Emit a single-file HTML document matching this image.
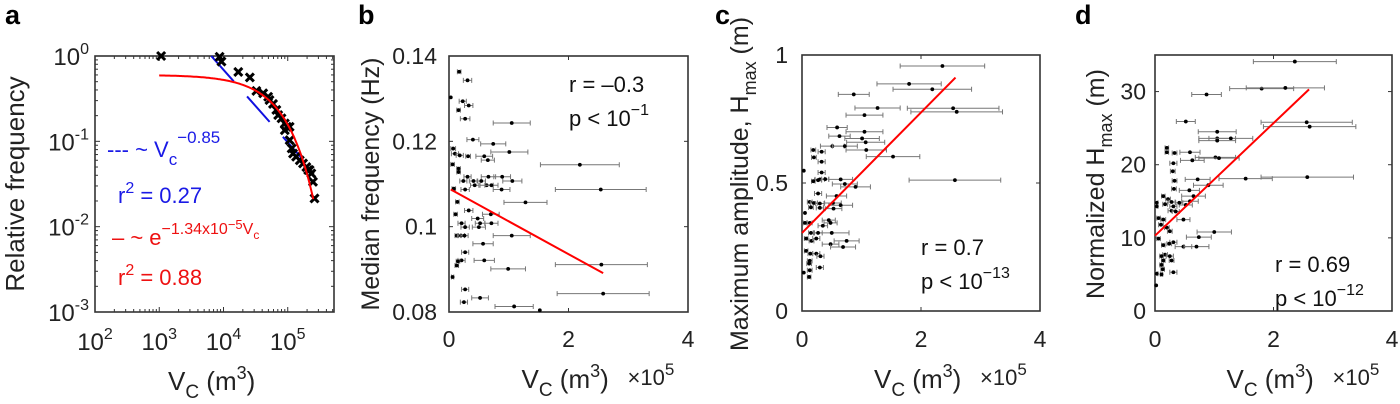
<!DOCTYPE html>
<html><head><meta charset="utf-8"><style>
html,body{margin:0;padding:0;background:#fff}
svg{display:block;font-family:"Liberation Sans",Arial,sans-serif}
</style></head><body>
<svg id="fig" width="1400" height="404" viewBox="0 0 1400 404">
<g id="pa"></g>
<g id="pb"></g>
<g id="pc"></g>
<g id="pd"></g>
</svg>
<script>
// ---- Panel a data ----
const aVc = [1070,8700,9300,17000,25700,32500,41500,49500,52000,59000,66500,71000,80000,90000,97000,107000,90000,107000,115000,121000,135000,154000,173000,195000,219000,233000,208000,247000,261000];
const aFreq = [1.0,0.98,0.86,0.65,0.56,0.39,0.365,0.333,0.305,0.274,0.233,0.203,0.186,0.162,0.148,0.148,0.135,0.103,0.0826,0.072,0.066,0.060,0.055,0.050,0.046,0.042,0.046,0.0336,0.0214];
const aExpA = 0.6, aExpK = 1.34e-5, aPowExp = -0.85, aPowRange = [6450, 162000];
const aXTicks = [2,3,4,5], aYTicks = [0,-1,-2,-3];

// ---- Panel b data ----
const bX = [0.17,0.31,0.23,0.33,0.16,0.27,1.05,0.03,0.40,0.74,1.01,0.07,0.10,0.18,0.32,0.59,0.65,2.19,0.06,0.16,0.16,0.31,0.66,0.89,1.06,0.24,0.41,0.54,0.63,0.71,0.88,0.43,0.27,2.54,0.08,0.14,1.28,0.33,0.11,0.70,0.48,0.21,0.52,0.71,0.27,0.50,0.13,0.20,0.26,1.05,0.57,0.27,0.21,0.15,0.59,2.55,0.13,0.99,0.06,0.27,2.58,0.52,0.25,1.09,1.52];
const bY = [0.1363,0.1343,0.1294,0.1284,0.1273,0.1253,0.1243,0.1303,0.1204,0.1194,0.1175,0.1183,0.1171,0.1167,0.1165,0.1165,0.1156,0.1145,0.1146,0.1136,0.1128,0.1117,0.1117,0.1117,0.1107,0.1107,0.1107,0.1107,0.1097,0.1097,0.1087,0.1097,0.1087,0.1087,0.1089,0.1058,0.1057,0.1038,0.1029,0.1029,0.1019,0.1008,0.1008,0.1008,0.0999,0.0999,0.0979,0.0979,0.0979,0.0979,0.0960,0.0940,0.0921,0.0919,0.0921,0.0911,0.0909,0.0901,0.0882,0.0853,0.0843,0.0833,0.0823,0.0813,0.0804];
const bErr = [0.03,0.07,0.06,0.07,0.03,0.08,0.31,0,0.10,0.21,0.31,0.04,0.06,0.06,0.04,0.14,0.11,0.66,0.03,0.03,0.03,0.06,0.12,0.14,0.16,0.06,0.07,0.07,0.11,0.11,0.14,0.07,0.07,0.76,0.03,0.03,0.36,0.07,0.03,0.14,0.10,0.06,0.08,0.11,0.07,0.11,0.03,0.06,0.06,0.31,0.17,0.06,0.06,0.03,0.17,0.77,0.03,0.29,0.02,0.06,0.77,0.14,0.06,0.32,0];
const bFit = [[0.03,0.1087],[2.58,0.0891]];
const bXTicks = [0,2,4], bYTicks = [0.08,0.1,0.12,0.14], bYLabels = ["0.08","0.1","0.12","0.14"];

// ---- Panel c data ----
const cX = [2.36,1.80,2.19,0.87,1.27,2.54,2.60,1.05,0.59,1.05,0.63,1.01,1.07,0.51,0.72,0.19,0.33,1.08,0.20,1.53,0.33,0.03,0.33,0.30,0.39,0.65,0.72,0.90,2.57,0.27,0.19,0.27,0.58,0.13,0.20,0.30,0.52,0.65,0.15,0.30,0.53,0.05,0.05,0.13,0.45,0.48,0.35,0.50,0.15,0.27,0.75,0.48,0.69,0.07,0.16,0.24,0.07,0.14,0.24,0.31,0.13,0.12,0.30,0.03,0.13,0.12];
const cY = [0.957,0.887,0.866,0.846,0.793,0.792,0.778,0.765,0.717,0.700,0.683,0.674,0.659,0.644,0.644,0.629,0.622,0.629,0.600,0.603,0.583,0.548,0.541,0.514,0.515,0.514,0.496,0.485,0.511,0.511,0.507,0.459,0.449,0.426,0.422,0.420,0.422,0.413,0.405,0.403,0.400,0.383,0.344,0.344,0.355,0.344,0.333,0.305,0.305,0.305,0.274,0.261,0.250,0.283,0.274,0.283,0.235,0.224,0.224,0.214,0.196,0.185,0.170,0.150,0.159,0.133];
const cErr = [0.71,0.54,0.66,0.26,0.38,0.77,0.77,0.31,0.17,0.31,0.18,0.29,0.32,0.20,0.21,0.04,0.06,0.34,0.04,0.45,0.06,0,0.06,0.08,0.06,0.20,0.21,0.25,0.77,0.06,0.03,0.06,0.17,0.04,0.06,0.07,0.14,0.20,0.04,0.06,0.14,0,0.03,0.04,0.11,0.11,0.08,0.29,0.04,0.07,0.21,0.14,0.21,0.03,0.04,0.06,0.03,0.04,0.06,0.06,0.04,0.04,0.06,0,0.04,0.03];
const cFit = [[0,0.305],[2.58,0.912]];
const cXTicks = [0,2,4], cYTicks = [0,0.5,1], cYLabels = ["0","0.5","1"];

// ---- Panel d data ----
const dX = [2.36,1.80,2.20,0.87,0.52,2.56,2.61,1.05,1.05,1.28,1.05,0.20,0.20,0.33,0.59,1.02,1.08,0.63,0.31,0.30,0.72,1.53,2.57,0.33,0.90,0.32,0.58,0.14,0.22,0.65,0.03,0.28,0.59,0.17,0.31,0.52,0.03,0.28,0.35,0.41,0.06,0.48,0.14,0.10,0.20,0.25,1.00,0.74,0.06,0.31,0.24,0.14,0.48,0.70,0.17,0.11,0.25,0.14,0.28,0.11,0.13,0.31,0.03,0.11,0.02];
const dY = [34.1,30.4,30.5,29.6,25.9,25.8,25.2,24.5,23.6,23.6,23.3,22.3,21.7,21.6,21.7,21.0,20.9,20.6,20.2,19.1,18.0,18.1,18.3,17.8,17.2,16.7,16.5,15.7,15.3,15.7,14.8,14.9,15.0,14.6,14.3,14.5,14.3,13.7,13.6,14.8,12.7,12.5,12.5,11.8,11.4,10.9,10.8,10.1,9.9,9.4,9.2,9.0,8.8,8.8,7.7,7.5,7.5,6.9,6.9,6.3,5.7,5.3,5.1,5.0,3.5];
const dErr = [0.70,0.54,0.66,0.25,0.16,0.77,0.78,0.32,0.31,0.37,0.31,0.03,0.03,0.04,0.17,0.34,0.34,0.20,0.06,0.04,0.21,0.45,0.78,0.04,0.25,0.04,0.17,0.03,0.04,0.20,0.02,0.06,0.14,0.04,0.06,0.11,0.02,0.06,0.06,0.06,0.03,0.11,0.04,0.04,0.04,0.04,0.29,0.21,0.03,0.06,0.04,0.03,0.14,0.21,0.04,0.03,0.06,0.03,0.04,0.03,0.03,0.06,0.02,0.02,0];
const dFit = [[0,10.3],[2.6,30.3]];
const dXTicks = [0,2,4], dYTicks = [0,10,20,30], dYLabels = ["0","10","20","30"];

const NS = "http://www.w3.org/2000/svg";
function mk(parent, tag, attrs, text){
  const e = document.createElementNS(NS, tag);
  for (const k in attrs) e.setAttribute(k, attrs[k]);
  if (text !== undefined) e.textContent = text;
  parent.appendChild(e);
  return e;
}
function tx(parent, x, y, html, opts){
  const t = mk(parent, "text", Object.assign({x:x, y:y, "font-size":20, fill:"#222"}, opts||{}));
  t.innerHTML = html;
  return t;
}
function box(g, L, T, R, B){
  const r = mk(g, "rect", {x:L, y:T, width:R-L, height:B-T, fill:"none", stroke:"#333", "stroke-width":1.6});
  
  
}
const VC_TITLE = `V<tspan dy="8" font-size="19">C</tspan><tspan dy="-8"> (m</tspan><tspan dy="-11" font-size="18">3</tspan><tspan dy="11">)</tspan>`;

// ---------- Panel a ----------
(function(){
  const g = document.getElementById("pa");
  const L=95,R=334,T=56,B=312;
  const lx0=2, lx1=5.72, ly0=-3, ly1=0;
  const sx = v => L + (Math.log10(v)-lx0)/(lx1-lx0)*(R-L);
  const sy = v => B - (Math.log10(v)-ly0)/(ly1-ly0)*(B-T);
  box(g,L,T,R,B);
  for (let d=2; d<6; d++) for (let m=1; m<10; m++){
    const lv = d+Math.log10(m); if (lv>lx1) continue;
    const x = L+(lv-lx0)/(lx1-lx0)*(R-L); const len = m===1?5:3;
    mk(g,"line",{x1:x,y1:B,x2:x,y2:B-len,stroke:"#333","stroke-width":1});
    mk(g,"line",{x1:x,y1:T,x2:x,y2:T+len,stroke:"#333","stroke-width":1});
  }
  for (let d=-3; d<0; d++) for (let m=1; m<10; m++){
    const lv = d+Math.log10(m);
    const y = B-(lv-ly0)/(ly1-ly0)*(B-T); const len = m===1?5:3;
    mk(g,"line",{x1:L,y1:y,x2:L+len,y2:y,stroke:"#333","stroke-width":1});
    mk(g,"line",{x1:R,y1:y,x2:R-len,y2:y,stroke:"#333","stroke-width":1});
  }
  aXTicks.forEach(p=>{
    const t = tx(g, L+(p-lx0)/(lx1-lx0)*(R-L), 350, `10<tspan dy="-11" font-size="16">${p}</tspan>`, {"text-anchor":"middle","font-size":24});
    
    
  });
  aYTicks.forEach(p=>{
    const t = tx(g, 89, B-(p-ly0)/(ly1-ly0)*(B-T)+9, `10<tspan dy="-11" font-size="16">${p}</tspan>`, {"text-anchor":"end","font-size":24});
    
    
  });
  const [p0,p1] = aPowRange;
  const bl = mk(g,"line",{x1:sx(p0),y1:sy(Math.pow(p0/p0,aPowExp)),x2:sx(p1),y2:sy(Math.pow(p1/p0,aPowExp)),stroke:"#1010e0","stroke-width":2,"stroke-dasharray":"34 20"});
  
  
  aVc.forEach((v,i)=>{
    const x=sx(v), y=sy(aFreq[i]);
    const p = mk(g,"path",{d:`M${x-4},${y-4}L${x+4},${y+4}M${x-4},${y+4}L${x+4},${y-4}`,stroke:"#000","stroke-width":3});
    
    
  });
  let d="";
  for (let i=0;i<=120;i++){
    const lv = Math.log10(1000)+i/120*(Math.log10(250000)-3);
    const v = Math.pow(10,lv);
    d += (i?"L":"M")+sx(v).toFixed(1)+","+sy(aExpA*Math.exp(-aExpK*v)).toFixed(1);
  }
  const rf = mk(g,"path",{d:d,fill:"none",stroke:"#f00","stroke-width":2});
  
  
  let t;
  t = tx(g,107,157,`--- ~ V<tspan dy="8" font-size="17">c</tspan><tspan dy="-22" font-size="17">−0.85</tspan>`,{fill:"#1a1ae6","font-size":22});
   
  t = tx(g,118,203,`r<tspan dy="-10" font-size="16">2</tspan><tspan dy="10"> = 0.27</tspan>`,{fill:"#1a1ae6","font-size":22});
   
  t = tx(g,112,245,`–  ~ e<tspan dy="-11" font-size="16">−1.34x10</tspan><tspan dy="-5" font-size="13">−5</tspan><tspan font-size="16" dy="5">V</tspan><tspan dy="5" font-size="12">c</tspan>`,{fill:"#ee1111","font-size":22});
   
  t = tx(g,118,285,`r<tspan dy="-10" font-size="16">2</tspan><tspan dy="10"> = 0.88</tspan>`,{fill:"#ee1111","font-size":22});
   
  t = tx(g,5,24,"a",{"font-weight":"bold","font-size":27,fill:"#000"});
   
  t = tx(g,0,0,"Relative frequency",{"font-size":26,"text-anchor":"middle",transform:"translate(24,184) rotate(-90)"});
   
  t = tx(g,168,390,VC_TITLE,{"font-size":26});
   
})();

function linPanel(gid, L, R, T, B, xmax, ymin, ymax, X, Y, E, fit, xt, yt, yl, label, ytitle, titleX, ann, tickRight){
  const g = document.getElementById(gid);
  const sx = v => L + v/xmax*(R-L);
  const sy = v => B - (v-ymin)/(ymax-ymin)*(B-T);
  box(g,L,T,R,B);
  xt.forEach(v=>{
    const x=sx(v);
    mk(g,"line",{x1:x,y1:B,x2:x,y2:B-4,stroke:"#333"}); mk(g,"line",{x1:x,y1:T,x2:x,y2:T+4,stroke:"#333"});
    const t = tx(g,x,347,String(v),{"text-anchor":"middle","font-size":23});
     
  });
  yt.forEach((v,i)=>{
    const y=sy(v);
    mk(g,"line",{x1:L,y1:y,x2:L+4,y2:y,stroke:"#333"}); mk(g,"line",{x1:R,y1:y,x2:R-4,y2:y,stroke:"#333"});
    const t = tx(g,tickRight,y+8,yl[i],{"text-anchor":"end","font-size":23});
     
  });
  X.forEach((v,i)=>{
    const y=sy(Y[i]);
    if (E[i]>0){
      const x0=sx(v-E[i]), x1=sx(v+E[i]);
      const eb = mk(g,"path",{d:`M${x0},${y}H${x1}M${x0},${y-2.5}V${y+2.5}M${x1},${y-2.5}V${y+2.5}`,stroke:"#777","stroke-width":1,fill:"none"});
       
    }
    const c = mk(g,"circle",{cx:sx(v),cy:y,r:1.9,fill:"#000"});
     
  });
  const fl = mk(g,"line",{x1:sx(fit[0][0]),y1:sy(fit[0][1]),x2:sx(fit[1][0]),y2:sy(fit[1][1]),stroke:"#f00","stroke-width":2});
   
  let t;
  t = tx(g,ann[0],ann[1],ann[2],{"font-size":22,fill:"#111"});
   
  t = tx(g,ann[0],ann[1]+34,`p &lt; 10<tspan dy="-11" font-size="16">${ann[3]}</tspan>`,{"font-size":22,fill:"#111"});
   
  t = tx(g,label[1],24,label[0],{"font-weight":"bold","font-size":27,fill:"#000"});
   
  t = tx(g,0,0,ytitle,{"font-size":25,"text-anchor":"middle",transform:`translate(${titleX},184) rotate(-90)`});
   
  const cx = (L+R)/2;
  t = tx(g,cx-47,388,VC_TITLE,{"font-size":26});
   
  t = tx(g,cx+59,385,`×10<tspan dy="-10" font-size="17">5</tspan>`,{"font-size":22});
   
}
linPanel("pb",449,688,56,312,4,0.08,0.14,bX,bY,bErr,bFit,bXTicks,bYTicks,bYLabels,["b",358],"Median frequency (Hz)",379,[569,92,"r = –0.3","−1"],437);
linPanel("pc",802,1040,55,311,4,0,1,cX,cY,cErr,cFit,cXTicks,cYTicks,cYLabels,["c",715],'Maximum amplitude, H<tspan dy="8" font-size="18">max</tspan><tspan dy="-8"> (m)</tspan>',748,[921,255,"r = 0.7","−13"],788);
linPanel("pd",1155,1392,55,311,4,0,35,dX,dY,dErr,dFit,dXTicks,dYTicks,dYLabels,["d",1075],'Normalized H<tspan dy="8" font-size="18">max</tspan><tspan dy="-8"> (m)</tspan>',1104,[1275,272,"r = 0.69","−12"],1146);
</script>
</body></html>
